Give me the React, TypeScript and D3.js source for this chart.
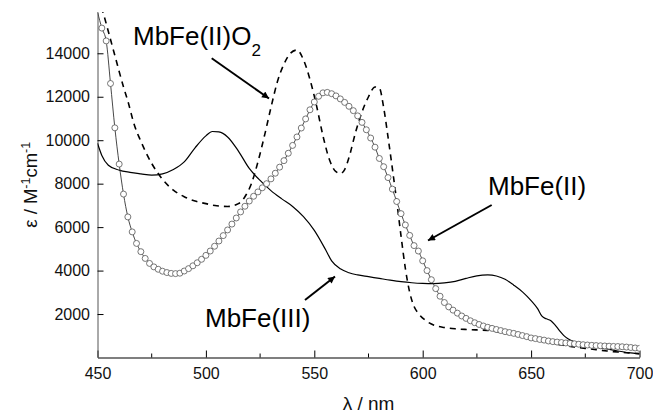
import React, { useRef, useEffect } from 'react';
import * as d3 from 'd3';

// MbFe(II) – open circles, one every 2 nm (wavelength, epsilon)
const deoxyWl = d3.range(452, 701, 2);
const deoxyEps = [
  15160, 14570, 12610, 10570, 8900, 7520, 6470, 5780, 5250, 4870,
  4560, 4330, 4170, 4060, 3970, 3910, 3870, 3860, 3880, 3980,
  4090, 4220, 4360, 4520, 4700, 4900, 5120, 5360, 5610, 5870,
  6140, 6420, 6700, 6960, 7200, 7420, 7620, 7810, 8000, 8220,
  8480, 8760, 9060, 9400, 9760, 10150, 10560, 10980, 11400, 11760,
  12020, 12180, 12200, 12140, 12040, 11900, 11740, 11560, 11360, 11120,
  10820, 10480, 10100, 9680, 9160, 8780, 8280, 7750, 7180, 6620,
  6100, 5620, 5150, 4900, 4450, 4000, 3580, 3170, 2820, 2530,
  2330, 2180, 2040, 1910, 1800, 1690, 1600, 1520, 1450, 1390,
  1340, 1290, 1240, 1190, 1150, 1110, 1060, 1010, 960, 900,
  870, 830, 800, 760, 730, 710, 690, 670, 650, 630,
  610, 590, 575, 560, 550, 540, 530, 520, 510, 505,
  495, 480, 460, 440, 420,
];

// MbFe(III) – solid line
const metWl = [
  450, 452, 455, 460, 465, 470, 475, 480, 485, 490, 495, 500, 503, 506, 510, 515,
  520, 525, 530, 535, 540, 545, 550, 555, 558, 562, 566, 570, 575, 580, 585, 590,
  595, 600, 605, 610, 615, 620, 625, 630, 634, 638, 642, 646, 650, 653, 655, 657,
  659, 661, 663, 665, 667, 670, 675, 680, 685, 690, 695, 700,
];
const metEps = [
  9860, 9300, 8850, 8620, 8520, 8450, 8390, 8450, 8650, 9000, 9650, 10200, 10400, 10380, 10150, 9500,
  8700, 8150, 7680, 7300, 6950, 6480, 5850, 5000, 4450, 4080, 3900, 3800, 3720, 3640, 3560, 3490,
  3440, 3410, 3400, 3430, 3500, 3640, 3760, 3800, 3750, 3600, 3330, 3020, 2620, 2250, 1900, 1780,
  1700, 1500, 1250, 1020, 860, 720, 620, 480, 390, 300, 220, 160,
];

// MbFe(II)O2 – dashed line
const oxyWl = [
  450, 452.7, 455, 458, 462, 464, 467, 470, 475, 480, 485, 490, 495, 500, 505, 510,
  515, 518, 521, 524, 527, 530, 533, 536, 539, 542, 545, 548, 551, 554, 557, 560,
  562, 564, 566, 569, 572, 575, 578, 580, 582, 584, 586, 588, 590, 592, 594, 596,
  598, 601, 605, 610, 615, 620, 625, 630, 635, 640, 645, 650, 655, 660, 665, 670,
  675, 680, 685, 690, 695, 700,
];
const oxyEps = [
  16600, 15830, 15000, 13900, 12450, 11800, 10700, 9950, 8930, 8200, 7700, 7400, 7200, 7080, 6980, 6950,
  7080, 7400, 8000, 9000, 10200, 11500, 12700, 13500, 14000, 14150, 13700, 12800, 11600, 10200, 9100, 8550,
  8470, 8650, 9200, 10350, 11300, 12000, 12450, 12400, 11500, 10150, 8700, 7200, 5600, 4100, 3000, 2350,
  2030, 1730, 1500, 1380, 1320, 1290, 1270, 1250, 1180, 1100, 1030, 920, 780, 650, 560, 480,
  420, 360, 300, 250, 210, 180,
];

const xTicks = [450, 500, 550, 600, 650, 700];
const xMinorTicks = [475, 525, 575, 625, 675];
const yTicks = [2000, 4000, 6000, 8000, 10000, 12000, 14000];

const W = 653;
const H = 414;
const FONT = '"Liberation Sans", Arial, Helvetica, sans-serif';

export default function App() {
  const svgRef = useRef<SVGSVGElement>(null);

  useEffect(() => {
    if (!svgRef.current) return;
    const svg = d3.select(svgRef.current);
    svg.selectAll('*').remove();

    const margin = { top: 12, right: 13.5, bottom: 56.5, left: 97.5 };
    const iw = W - margin.left - margin.right;
    const ih = H - margin.top - margin.bottom;

    const x = d3.scaleLinear().domain([450, 700]).range([0, iw]);
    const y = d3.scaleLinear().domain([0, 15900]).range([ih, 0]);

    const defs = svg.append('defs');
    defs.append('clipPath').attr('id', 'plot-clip')
      .append('rect').attr('x', 0).attr('y', 0).attr('width', iw).attr('height', ih);
    defs.append('marker')
      .attr('id', 'arrow')
      .attr('viewBox', '0 0 10 10')
      .attr('refX', 10)
      .attr('refY', 5)
      .attr('markerWidth', 11)
      .attr('markerHeight', 7)
      .attr('markerUnits', 'userSpaceOnUse')
      .attr('orient', 'auto')
      .append('path')
      .attr('d', 'M0,0 L10,5 L0,10 Z')
      .attr('fill', '#000');

    const g = svg.append('g').attr('transform', `translate(${margin.left},${margin.top})`);

    // axes
    const xAxis = g.append('g')
      .attr('transform', `translate(0,${ih})`)
      .call(d3.axisBottom(x).tickValues(xTicks).tickSizeInner(-7).tickSizeOuter(0).tickPadding(10));
    xAxis.select('.domain').attr('stroke', '#000').attr('stroke-width', 1.2);
    xAxis.selectAll('.tick line').attr('stroke', '#000');
    xAxis.selectAll('text').attr('font-family', FONT).attr('font-size', 16).attr('fill', '#111');

    g.append('g')
      .attr('transform', `translate(0,${ih})`)
      .selectAll('line')
      .data(xMinorTicks)
      .enter()
      .append('line')
      .attr('x1', d => x(d))
      .attr('x2', d => x(d))
      .attr('y1', 0)
      .attr('y2', -4)
      .attr('stroke', '#000');

    const yAxis = g.append('g')
      .call(d3.axisLeft(y).tickValues(yTicks).tickSizeInner(-6).tickSizeOuter(0).tickPadding(7.5).tickFormat(d3.format('d')));
    yAxis.select('.domain').attr('stroke', '#555').attr('stroke-width', 1);
    yAxis.selectAll('.tick line').attr('stroke', '#000');
    yAxis.selectAll('text').attr('font-family', FONT).attr('font-size', 16).attr('fill', '#111');

    // curves
    const plot = g.append('g').attr('clip-path', 'url(#plot-clip)');
    const line = d3.line<[number, number]>()
      .x(d => x(d[0]))
      .y(d => y(d[1]))
      .curve(d3.curveMonotoneX);

    const met = metWl.map((w, i) => [w, metEps[i]] as [number, number]);
    const oxy = oxyWl.map((w, i) => [w, oxyEps[i]] as [number, number]);
    const deoxy = deoxyWl.map((w, i) => [w, deoxyEps[i]] as [number, number]);

    plot.append('path')
      .datum(met)
      .attr('fill', 'none')
      .attr('stroke', '#000')
      .attr('stroke-width', 1.2)
      .attr('d', line);

    plot.append('path')
      .datum(oxy)
      .attr('fill', 'none')
      .attr('stroke', '#000')
      .attr('stroke-width', 1.6)
      .attr('stroke-dasharray', '6,5')
      .attr('d', line);

    plot.append('path')
      .datum([[450, 15900] as [number, number], ...deoxy])
      .attr('fill', 'none')
      .attr('stroke', '#333')
      .attr('stroke-width', 0.9)
      .attr('d', line);

    plot.selectAll('circle.deoxy')
      .data(deoxy)
      .enter()
      .append('circle')
      .attr('class', 'deoxy')
      .attr('cx', d => x(d[0]))
      .attr('cy', d => y(d[1]))
      .attr('r', 3)
      .attr('fill', '#fff')
      .attr('stroke', '#555')
      .attr('stroke-width', 0.8);

    // axis titles
    svg.append('text')
      .attr('x', margin.left + iw / 2)
      .attr('y', 410)
      .attr('text-anchor', 'middle')
      .attr('font-family', FONT)
      .attr('font-size', 19)
      .attr('fill', '#111')
      .text('λ / nm');

    const yl = svg.append('text')
      .attr('transform', `translate(37,${margin.top + ih / 2}) rotate(-90)`)
      .attr('text-anchor', 'middle')
      .attr('font-family', FONT)
      .attr('font-size', 18.5)
      .attr('fill', '#111');
    yl.append('tspan').text('ε / M');
    yl.append('tspan').attr('dy', -7).attr('font-size', 12.5).text('-1');
    yl.append('tspan').attr('dy', 7).text('cm');
    yl.append('tspan').attr('dy', -7).attr('font-size', 12.5).text('-1');

    // annotations
    const oxyLabel = svg.append('text')
      .attr('x', 133)
      .attr('y', 45)
      .attr('font-family', FONT)
      .attr('font-size', 26)
      .attr('fill', '#000');
    oxyLabel.append('tspan').text('MbFe(II)O');
    oxyLabel.append('tspan').attr('dy', 11).attr('font-size', 17).text('2');

    svg.append('text')
      .attr('x', 488)
      .attr('y', 195)
      .attr('font-family', FONT)
      .attr('font-size', 26)
      .attr('fill', '#000')
      .text('MbFe(II)');

    svg.append('text')
      .attr('x', 205)
      .attr('y', 327)
      .attr('font-family', FONT)
      .attr('font-size', 26)
      .attr('fill', '#000')
      .text('MbFe(III)');

    const arrows = [
      [211.7, 58.3, 269, 98.5],
      [491.7, 205, 428, 240.5],
      [305, 300, 335, 276.5],
    ];
    svg.append('g')
      .selectAll('line')
      .data(arrows)
      .enter()
      .append('line')
      .attr('x1', d => d[0])
      .attr('y1', d => d[1])
      .attr('x2', d => d[2])
      .attr('y2', d => d[3])
      .attr('stroke', '#000')
      .attr('stroke-width', 2)
      .attr('marker-end', 'url(#arrow)');
  }, []);

  return (
    <svg
      ref={svgRef}
      width={W}
      height={H}
      style={{ position: 'absolute', left: 0, top: 0, background: '#fff' }}
    />
  );
}
